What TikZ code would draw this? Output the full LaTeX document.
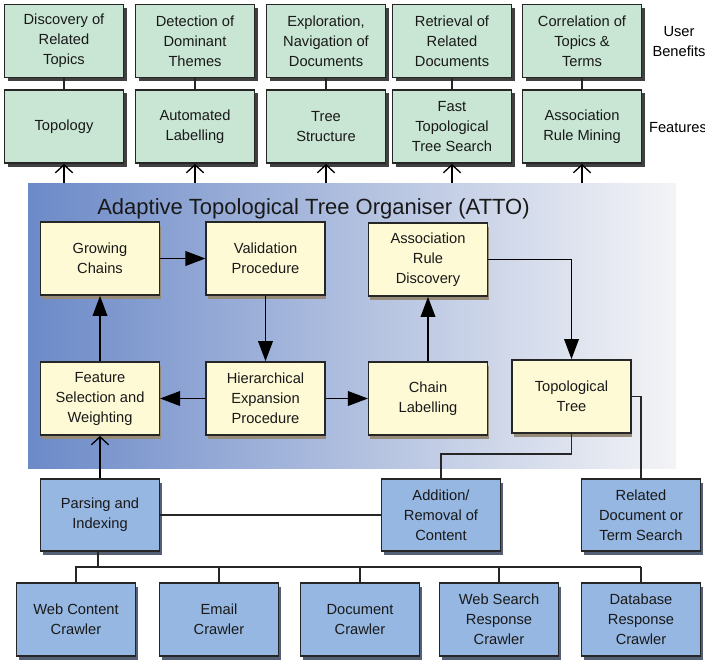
\documentclass[tikz,border=0pt]{standalone}
\usepackage{fontspec}
\setmainfont{Liberation Sans}
\usetikzlibrary{shadows,arrows.meta}
\definecolor{boxgreen}{RGB}{200,230,211}
\definecolor{boxyellow}{RGB}{255,250,214}
\definecolor{boxblue}{RGB}{149,183,226}
\definecolor{shadowbrown}{RGB}{150,138,120}
\definecolor{shadowblue}{RGB}{85,95,118}
\definecolor{attoleft}{RGB}{108,138,200}
\definecolor{attoright}{RGB}{244,244,246}
\tikzset{
  box/.style={draw=black!85, line width=1.1pt, minimum width=89pt, minimum height=55pt,
    align=center, inner sep=2pt, text=black!90, font=\fontsize{11}{15}\selectfont},
  benefitbox/.style={box, fill=boxgreen,
    drop shadow={shadow xshift=2.5pt, shadow yshift=-2.5pt, fill=black!75, opacity=1}},
  attobox/.style={box, fill=boxyellow,
    drop shadow={shadow xshift=1pt, shadow yshift=-3pt, fill=shadowbrown, opacity=1}},
  inputbox/.style={box, fill=boxblue,
    drop shadow={shadow xshift=2pt, shadow yshift=-3pt, fill=shadowblue, opacity=1}},
  flow/.style={line width=1.1pt, -{Triangle[length=15pt,width=11pt]}},
  feed/.style={line width=1pt, -{Straight Barb[length=6pt,width=13pt]}},
  link/.style={line width=0.9pt, draw=black!85}
}
\begin{document}
\begin{tikzpicture}[x=0.75pt, y=-0.75pt]
      \useasboundingbox (0,0) rectangle (705,663);
      \node[inner sep=0, minimum width=486pt, minimum height=213.75pt,
        left color=attoleft, right color=attoright] (atto) at (352,325.5) {};
      \node[anchor=base west, inner sep=0, text=black!90, font=\fontsize{16.5}{19}\selectfont]
        (title) at (97,214) {Adaptive Topological Tree Organiser (ATTO)};
      \node[benefitbox] (b1) at (64,41) {Discovery of\\Related\\Topics};
      \node[benefitbox] (b2) at (195,41) {Detection of\\Dominant\\Themes};
      \node[benefitbox] (b3) at (326,41) {Exploration,\\Navigation of\\Documents};
      \node[benefitbox] (b4) at (452,41) {Retrieval of\\Related\\Documents};
      \node[benefitbox] (b5) at (582,41) {Correlation of\\Topics \&\\Terms};
      \node[benefitbox] (f1) at (64,126.5) {Topology};
      \node[benefitbox] (f2) at (195,126.5) {Automated\\Labelling};
      \node[benefitbox] (f3) at (326,126.5) {Tree\\Structure};
      \node[benefitbox] (f4) at (452,126.5) {Fast\\Topological\\Tree Search};
      \node[benefitbox] (f5) at (582,126.5) {Association\\Rule Mining};
      \node[font=\fontsize{11}{15}\selectfont, align=center] (userlbl) at (679,42) {User\\Benefits};
      \node[font=\fontsize{11}{15}\selectfont] (featlbl) at (678,128) {Features};
      \node[attobox] (grow) at (100,258.5) {Growing\\Chains};
      \node[attobox] (valid) at (265.5,258.5) {Validation\\Procedure};
      \node[attobox] (assoc) at (428,259.5) {Association\\Rule\\Discovery};
      \node[attobox] (featsel) at (100,398.5) {Feature\\Selection and\\Weighting};
      \node[attobox] (hier) at (265.5,398.5) {Hierarchical\\Expansion\\Procedure};
      \node[attobox] (chainlab) at (428,398.5) {Chain\\Labelling};
      \node[attobox] (topotree) at (571.5,396.5) {Topological\\Tree};
      \node[inputbox, minimum height=54pt] (parse) at (100,515) {Parsing and\\Indexing};
      \node[inputbox, minimum height=54pt] (addrem) at (441,515) {Addition/\\Removal of\\Content};
      \node[inputbox, minimum height=54pt] (related) at (641,515) {Related\\Document or\\Term Search};
      \node[inputbox] (web) at (76,619.5) {Web Content\\Crawler};
      \node[inputbox] (email) at (219,619.5) {Email\\Crawler};
      \node[inputbox] (doc) at (360,619.5) {Document\\Crawler};
      \node[inputbox] (websearch) at (499,619.5) {Web Search\\Response\\Crawler};
      \node[inputbox] (db) at (641,619.5) {Database\\Response\\Crawler};
      \coordinate (bus) at (98,567);
      \coordinate (tt) at (571.5,454);
      \begin{scope}[link]
        \draw (b1) -- (f1);
        \draw (b2) -- (f2);
        \draw (b3) -- (f3);
        \draw (b4) -- (f4);
        \draw (b5) -- (f5);
        \draw (topotree.south) -- (tt) -| (addrem.north);
        \draw (topotree.east) -| (related.north);
        \draw (parse) -- (addrem);
        \draw (web.north) |- (bus);
        \draw (email.north) -- (email.north |- bus);
        \draw (doc.north) -- (doc.north |- bus);
        \draw (websearch.north) -- (websearch.north |- bus);
        \draw (db.north) -- (db.north |- bus);
        \draw (bus -| websearch) -- (bus -| db);
        \draw[line width=1.5pt] (parse.south -| bus) -- (bus) -- (bus -| websearch);
      \end{scope}
      \foreach \n in {f1,f2,f3,f4,f5}
        \draw[feed] (atto.north -| \n) -- (\n);
      \draw[feed] (parse) -- (featsel);
      \draw[flow] (grow) -- (valid);
      \draw[flow] (valid) -- (hier);
      \draw[flow] (hier) -- (featsel);
      \draw[flow] (hier) -- (chainlab);
      \draw[flow] (chainlab) -- (assoc);
      \draw[flow] (featsel) -- (grow);
      \draw[flow, line width=0.9pt] (assoc.east) -| (topotree);
    \end{tikzpicture}
\end{document}
